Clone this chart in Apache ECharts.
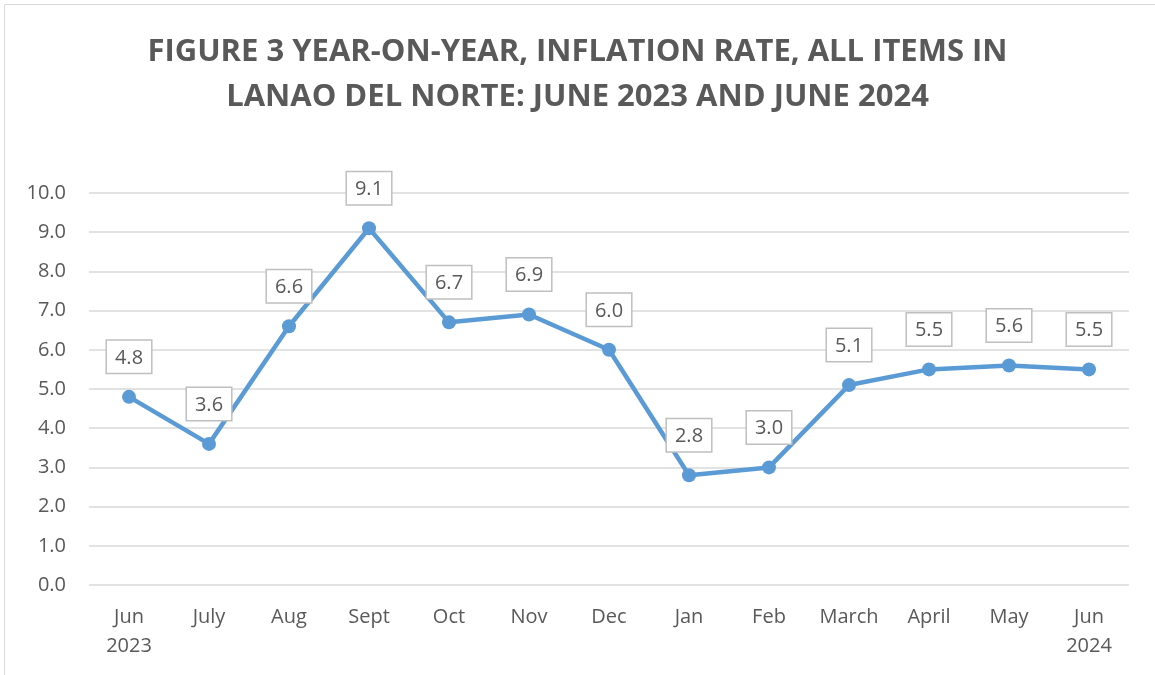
<!DOCTYPE html>
<html>
<head>
<meta charset="UTF-8"/>
<title>Inflation rate, Lanao del Norte</title>
<script src="https://cdn.jsdelivr.net/npm/echarts@6/dist/echarts.min.js"></script>
<style>
html, body { margin: 0; padding: 0; background: #fff; }
#chart { width: 1155px; height: 675px; }
</style>
</head>
<body>
<div id="chart"></div>
<script>
// months shown on the x axis
var months = ['Jun\n2023', 'July', 'Aug', 'Sept', 'Oct', 'Nov', 'Dec', 'Jan', 'Feb', 'March', 'April', 'May', 'Jun\n2024'];
// year-on-year inflation, all items (%)
var inflation = [4.8, 3.6, 6.6, 9.1, 6.7, 6.9, 6.0, 2.8, 3.0, 5.1, 5.5, 5.6, 5.5];

var textGray = '#595959';
var font = 'Open Sans';

var myChart = echarts.init(document.getElementById('chart'));
var option = {
  backgroundColor: '#fff',
  animation: false,
  title: {
    text: 'FIGURE 3 YEAR-ON-YEAR, INFLATION RATE, ALL ITEMS IN\nLANAO DEL NORTE: JUNE 2023 AND JUNE 2024',
    left: 'center',
    top: 25,
    textStyle: {
      fontFamily: font,
      fontWeight: 'bold',
      fontSize: 31,
      lineHeight: 45,
      color: textGray
    }
  },
  graphic: [{
    type: 'rect',
    shape: { x: 4.5, y: 4.5, width: 1200, height: 700 },
    style: { fill: 'none', stroke: '#d9d9d9', lineWidth: 1 },
    silent: true
  }],
  grid: { left: 89, right: 26, top: 193, bottom: 90 },
  xAxis: {
    type: 'category',
    data: months,
    boundaryGap: true,
    axisLine: { show: false },
    axisTick: { show: false },
    axisLabel: {
      margin: 18,
      fontFamily: font,
      fontSize: 20,
      lineHeight: 29,
      color: textGray
    }
  },
  yAxis: {
    type: 'value',
    min: 0,
    max: 10,
    interval: 1,
    axisLine: { show: false },
    axisTick: { show: false },
    splitLine: { lineStyle: { color: '#d9d9d9', width: 1.5 } },
    axisLabel: {
      margin: 23,
      fontFamily: font,
      fontSize: 20,
      color: textGray,
      formatter: function (v) { return v.toFixed(1); }
    }
  },
  series: [{
    type: 'line',
    data: inflation,
    symbol: 'circle',
    symbolSize: 14,
    lineStyle: { color: '#5B9BD5', width: 4.5 },
    itemStyle: { color: '#5B9BD5' },
    label: {
      show: true,
      position: 'top',
      distance: 17,
      fontFamily: font,
      fontSize: 20,
      lineHeight: 24,
      color: textGray,
      backgroundColor: '#fff',
      borderColor: '#bfbfbf',
      borderWidth: 1.5,
      padding: [5, 8, 3, 8],
      formatter: function (p) { return p.value.toFixed(1); }
    }
  }]
};
myChart.setOption(option);
</script>
</body>
</html>
